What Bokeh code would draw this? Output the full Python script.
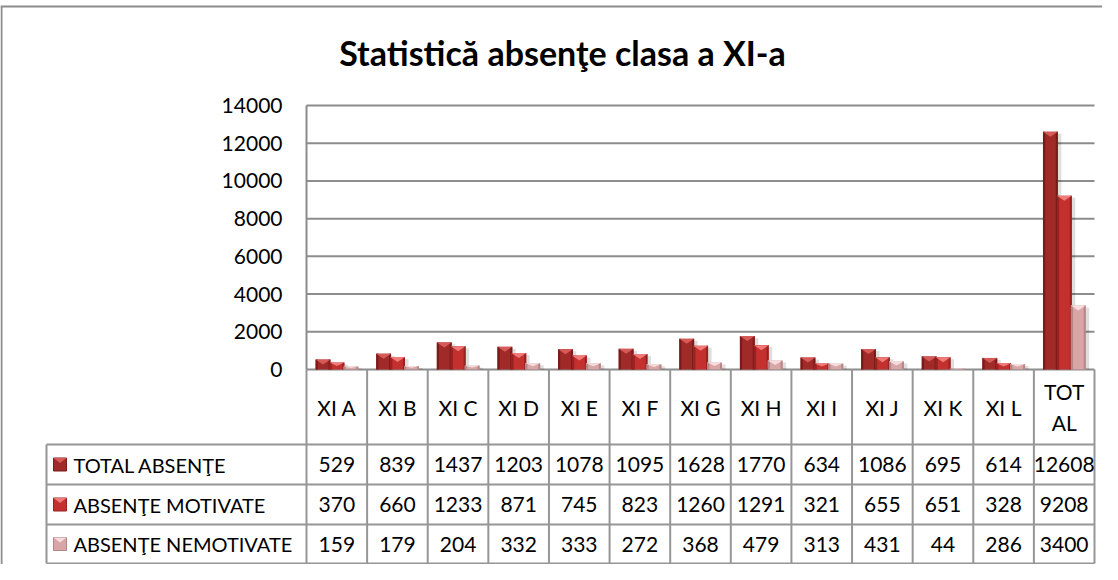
from bokeh.plotting import figure
from bokeh.models import Range1d
from bokeh.core.properties import value
from bokeh.embed import file_html
from bokeh.resources import INLINE

# ---------------- data ----------------
title_text = "Statistică absenţe clasa a XI-a"
categories = ["XI A", "XI B", "XI C", "XI D", "XI E", "XI F", "XI G",
              "XI H", "XI I", "XI J", "XI K", "XI L", "TOTAL"]
category_labels = ["XI A", "XI B", "XI C", "XI D", "XI E", "XI F", "XI G",
                   "XI H", "XI I", "XI J", "XI K", "XI L", "TOT\nAL"]
series_names = ["TOTAL ABSENŢE", "ABSENŢE MOTIVATE", "ABSENŢE NEMOTIVATE"]
total_absente = [529, 839, 1437, 1203, 1078, 1095, 1628, 1770, 634, 1086, 695, 614, 12608]
absente_motivate = [370, 660, 1233, 871, 745, 823, 1260, 1291, 321, 655, 651, 328, 9208]
absente_nemotivate = [159, 179, 204, 332, 333, 272, 368, 479, 313, 431, 44, 286, 3400]
y_ticks = [0, 2000, 4000, 6000, 8000, 10000, 12000, 14000]
y_tick_labels = ["0", "2000", "4000", "6000", "8000", "10000", "12000", "14000"]

series_values = [total_absente, absente_motivate, absente_nemotivate]

# ---------------- styles / layout (page pixels) ----------------
W, H = 1102, 564
OFF = 8
PLOT_L, PLOT_R, PLOT_T, PLOT_B = 314, 1102, 113, 377
Y_MAX = 14000
N = len(categories)
COLW = (PLOT_R - PLOT_L) / N
YPP = Y_MAX / (PLOT_B - PLOT_T)

HEADER_BOTTOM = 452
ROW_LINES = [452, 492, 532, 571]
LEG_LEFT = 54

FONT = value("Lato")
FS = "21px"
LEG_FS = "20px"
GRID_COLOR = "#8c8c8c"
TABLE_COLOR = "#969696"

base_colors = ["#a02a28", "#c3302e", "#d9a6a8"]
edge_colors = ["#781b1a", "#962322", "#b58587"]
top_colors = ["#d65a58", "#ef7a77", "#f6dcdc"]
bar_lefts = [0.15, 0.38, 0.61]
bar_width = 0.245


def X(px):
    return (px - PLOT_L) / COLW


def Y(py):
    return (PLOT_B - py) * YPP


p = figure(width=W, height=H, output_backend="svg", toolbar_location=None,
           x_axis_location=None, y_axis_location=None, min_border=0,
           x_range=Range1d(X(OFF), X(OFF + W)), y_range=Range1d(Y(OFF + H), Y(OFF)))
p.outline_line_color = None
p.grid.visible = False
p.background_fill_color = "white"
p.border_fill_color = "white"

# outer chart border
p.segment(x0=[X(9), X(8)], y0=[Y(14), Y(14)], x1=[X(9), X(1120)], y1=[Y(600), Y(14)],
          line_color=GRID_COLOR, line_width=2)

# gridlines + baseline
p.segment(x0=[0] * len(y_ticks), x1=[N] * len(y_ticks), y0=y_ticks, y1=y_ticks,
          line_color=GRID_COLOR, line_width=2)
# y axis line
p.segment(x0=[0], x1=[0], y0=[0], y1=[Y_MAX], line_color=GRID_COLOR, line_width=2)

# y tick labels
p.text(x=[X(290)] * len(y_ticks), y=y_ticks, text=y_tick_labels, text_align="right",
       text_baseline="middle", text_font=FONT, text_font_size=FS, text_color="black")

# title
p.text(x=[X(570)], y=[Y(60)], text=[title_text], text_align="center",
       text_baseline="middle", text_font=FONT, text_font_size="34px",
       text_font_style="bold", text_color="black")

# ---------------- bars ----------------
px_x = 1 / COLW
for k, vals in enumerate(series_values):
    lefts = [i + bar_lefts[k] for i in range(N)]
    rights = [l + bar_width for l in lefts]
    # soft shadow
    p.quad(left=[l + 2 * px_x for l in lefts], right=[r + 3.5 * px_x for r in rights],
           bottom=[0] * N, top=[max(v - 2 * YPP, 0) for v in vals],
           fill_color="#000000", fill_alpha=0.13, line_color=None)
    p.quad(left=lefts, right=rights, bottom=[0] * N, top=vals,
           fill_color=base_colors[k], line_color=None)
    # darker side bevels
    p.quad(left=lefts, right=[l + 2.2 * px_x for l in lefts], bottom=[0] * N, top=vals,
           fill_color=edge_colors[k], line_color=None)
    p.quad(left=[r - 2 * px_x for r in rights], right=rights, bottom=[0] * N, top=vals,
           fill_color=edge_colors[k], line_color=None)
    # top bevel triangle
    xs, ys = [], []
    for l, r, v in zip(lefts, rights, vals):
        h = min(5 * YPP, v * 0.5)
        xs.append([l, r, (l + r) / 2])
        ys.append([v, v, v - h])
    p.patches(xs=xs, ys=ys, fill_color=top_colors[k], line_color=None)

# ---------------- data table ----------------
# vertical column lines
p.segment(x0=list(range(N + 1)), x1=list(range(N + 1)), y0=[0] * (N + 1),
          y1=[Y(ROW_LINES[-1])] * (N + 1), line_color=TABLE_COLOR, line_width=2)
# horizontal row lines
p.segment(x0=[X(LEG_LEFT)] * len(ROW_LINES), x1=[N] * len(ROW_LINES),
          y0=[Y(r) for r in ROW_LINES], y1=[Y(r) for r in ROW_LINES],
          line_color=TABLE_COLOR, line_width=2)
# legend column left line
p.segment(x0=[X(LEG_LEFT)], x1=[X(LEG_LEFT)], y0=[Y(ROW_LINES[0])], y1=[Y(ROW_LINES[-1])],
          line_color=TABLE_COLOR, line_width=2)

# header labels
hx, hy, ht = [], [], []
header_mid = (PLOT_B + HEADER_BOTTOM) / 2
for i, lab in enumerate(category_labels):
    parts = lab.split("\n")
    n = len(parts)
    for j, part in enumerate(parts):
        hx.append(i + 0.5)
        hy.append(Y(header_mid + (j - (n - 1) / 2) * 31))
        ht.append(part)
p.text(x=hx, y=hy, text=ht, text_align="center", text_baseline="middle",
       text_font=FONT, text_font_size=FS, text_color="black")

# values
for r, vals in enumerate(series_values):
    cy = Y((ROW_LINES[r] + ROW_LINES[r + 1]) / 2)
    p.text(x=[i + 0.5 for i in range(N)], y=[cy] * N, text=[str(v) for v in vals],
           text_align="center", text_baseline="middle", text_font=FONT,
           text_font_size=FS, text_color="black")
    # legend key
    k0, k1 = X(61), X(74)
    t0, t1 = cy + 6.5 * YPP, cy - 6.5 * YPP
    p.quad(left=[k0], right=[k1], bottom=[t1], top=[t0], fill_color=base_colors[r],
           line_color=edge_colors[r], line_width=1)
    p.patches(xs=[[k0, k1, (k0 + k1) / 2]], ys=[[t0, t0, t0 - 5 * YPP]],
              fill_color=top_colors[r], line_color=None)
    p.text(x=[X(81)], y=[cy], text=[series_names[r]], text_align="left",
           text_baseline="middle", text_font=FONT, text_font_size=LEG_FS, text_color="black")

open("out.html", "w").write(file_html(p, INLINE))
